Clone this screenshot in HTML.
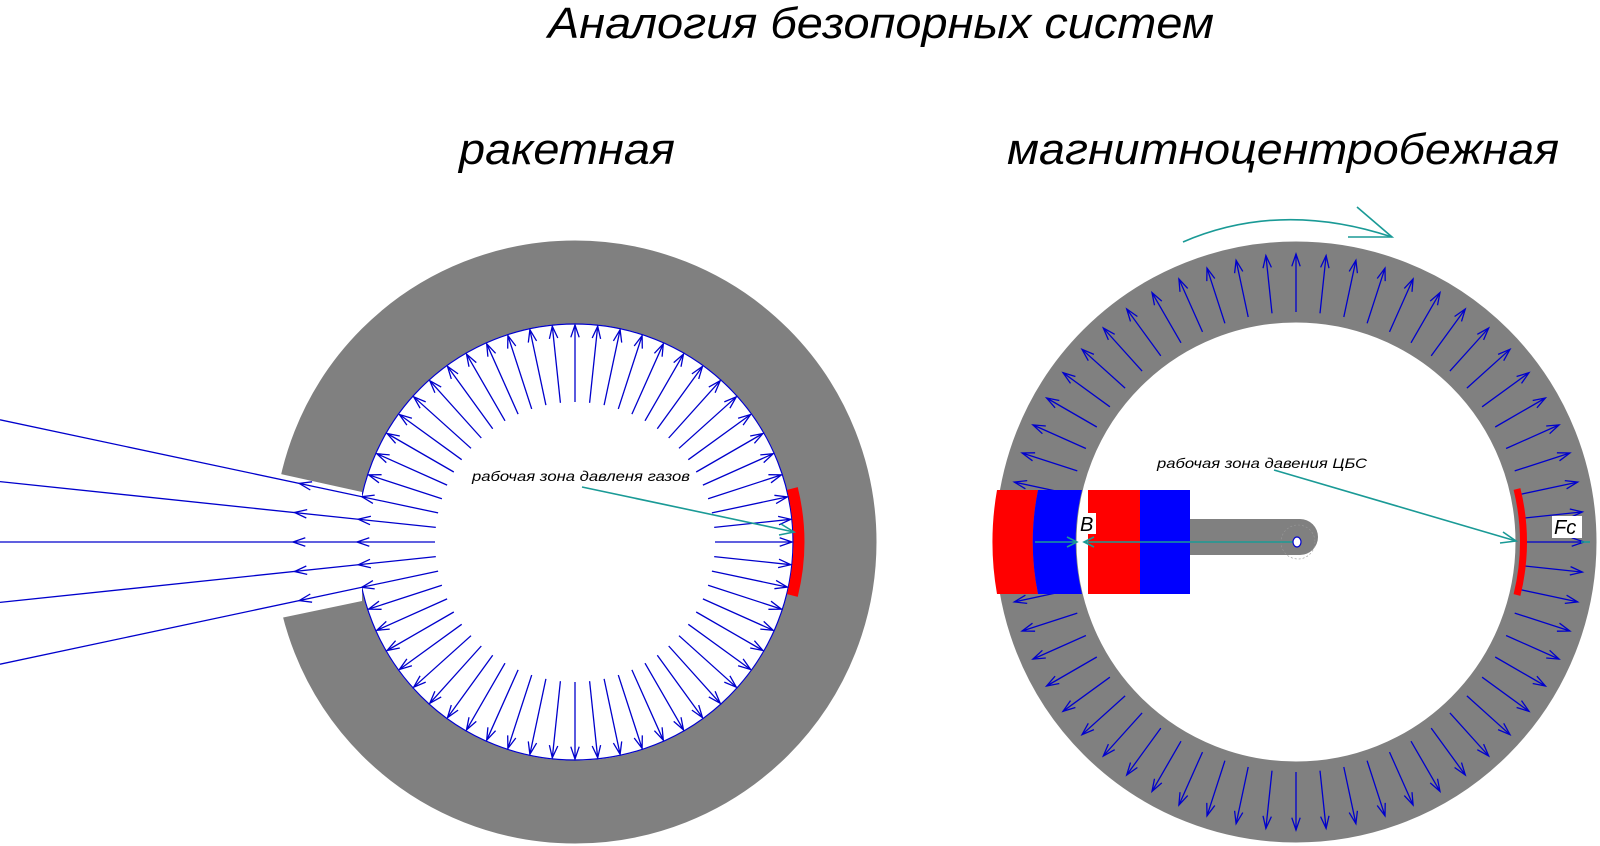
<!DOCTYPE html>
<html><head><meta charset="utf-8"><style>
html,body{margin:0;padding:0;background:#fff;}
svg{display:block;}
text{font-family:"Liberation Sans",sans-serif;font-style:italic;}
</style></head><body>
<svg id="s" width="1600" height="846" viewBox="0 0 1600 846" xmlns="http://www.w3.org/2000/svg">
<rect width="1600" height="846" fill="#fff"/>
<text x="548" y="38" font-size="44" textLength="666" lengthAdjust="spacingAndGlyphs">Аналогия безопорных систем</text>
<text x="459" y="164" font-size="44" textLength="216" lengthAdjust="spacingAndGlyphs">ракетная</text>
<text x="1007" y="164" font-size="44" textLength="552" lengthAdjust="spacingAndGlyphs">магнитноцентробежная</text>

<!-- left ring -->
<circle cx="575" cy="542" r="260" fill="none" stroke="#808080" stroke-width="83"/>
<circle cx="575" cy="542" r="218" fill="#fff" stroke="#0000cc" stroke-width="1.2"/>
<polygon points="362,492 276,473 250,467 250,625 276,619 362,601" fill="#fff"/>
<path d="M 792.4 488.5 A 224 224 0 0 1 792.4 595.5" fill="none" stroke="#ff0000" stroke-width="11"/>
<g id="la" stroke="#0000cc" stroke-width="1.3" fill="none"></g>

<!-- right ring -->
<circle cx="1296" cy="542" r="260" fill="none" stroke="#808080" stroke-width="81"/>
<g id="ra" stroke="#0000cc" stroke-width="1.3" fill="none"></g>
<path d="M 1517 489 A 222 222 0 0 1 1517 595" fill="none" stroke="#ff0000" stroke-width="7"/>
<!-- outer magnet -->
<path d="M 997 490 L 1038 490 A 262 262 0 0 0 1038 594 L 997 594 A 301 301 0 0 1 997 490 Z" fill="#ff0000"/>
<path d="M 1038 490 L 1082 490 A 219 219 0 0 0 1082 594 L 1038 594 A 262 262 0 0 1 1038 490 Z" fill="#0000ff"/>
<!-- arm -->
<path d="M 1188 519 L 1300 519 A 18 18 0 0 1 1300 555 L 1188 555 Z" fill="#808080"/>
<circle cx="1298" cy="542" r="17" fill="none" stroke="#999" stroke-width="0.6" stroke-dasharray="2,2"/>
<rect x="1088" y="490" width="52" height="104" fill="#ff0000"/>
<rect x="1140" y="490" width="50" height="104" fill="#0000ff"/>
<!-- teal lines -->
<g stroke="#1a9a96" stroke-width="1.6" fill="none">
<line x1="1035" y1="542" x2="1077" y2="542"/>
<path d="M1067 537 L1077 542 L1067 547"/>
<line x1="1084" y1="542" x2="1293" y2="542"/>
<path d="M1094 537 L1084 542 L1094 547"/>
<line x1="1274" y1="470" x2="1516" y2="541"/>
<path d="M1503 532 L1516 541 L1500 543"/>
<line x1="582" y1="487" x2="794" y2="532"/>
<path d="M781 524 L794 532 L779 535"/>
<path d="M1183 242 Q1280 200 1392 237"/>
<path d="M1357 207 L1392 237 L1348 237"/>
<line x1="1581" y1="542" x2="1590" y2="542"/>
</g>
<ellipse cx="1297" cy="542" rx="4" ry="5" fill="#fff" stroke="#0000cc" stroke-width="1.2"/>
<rect x="1079" y="513" width="17" height="21" fill="#fff"/>
<text x="1080" y="531" font-size="20">B</text>
<rect x="1552" y="516" width="30" height="22" fill="#fff"/>
<text x="1554" y="534" font-size="20">Fc</text>
<text x="472" y="481" font-size="14" textLength="218" lengthAdjust="spacingAndGlyphs">рабочая зона давленя газов</text>
<text x="1157" y="468" font-size="14" textLength="210" lengthAdjust="spacingAndGlyphs">рабочая зона давения ЦБС</text>
</svg>
<script>
(function(){
var NS="http://www.w3.org/2000/svg";
function head(g,x,y,a){var L=13,h=0.33;
 var p=document.createElementNS(NS,"path");
 var x1=x-L*Math.cos(a-h),y1=y-L*Math.sin(a-h),x2=x-L*Math.cos(a+h),y2=y-L*Math.sin(a+h);
 p.setAttribute("d","M"+x1.toFixed(1)+" "+y1.toFixed(1)+" L"+x.toFixed(1)+" "+y.toFixed(1)+" L"+x2.toFixed(1)+" "+y2.toFixed(1));g.appendChild(p);}
function line(g,a,b,c,d){var l=document.createElementNS(NS,"line");l.setAttribute("x1",a.toFixed(1));l.setAttribute("y1",b.toFixed(1));l.setAttribute("x2",c.toFixed(1));l.setAttribute("y2",d.toFixed(1));g.appendChild(l);}
var la=document.getElementById("la"),cx=575,cy=542;
for(var i=0;i<60;i++){var a=i*6*Math.PI/180,c=Math.cos(a),s=Math.sin(a);
 if(i>=28&&i<=32){var t=(cx)/(-c);line(la,cx+140*c,cy+140*s,cx+t*c,cy+t*s);
  head(la,cx+218*c,cy+218*s,a);head(la,cx+282*c,cy+282*s,a);}
 else{line(la,cx+140*c,cy+140*s,cx+217*c,cy+217*s);head(la,cx+217*c,cy+217*s,a);}}
var ra=document.getElementById("ra");cx=1296;
for(var i=0;i<60;i++){if(i>=29&&i<=31)continue;var a=i*6*Math.PI/180,c=Math.cos(a),s=Math.sin(a);
 line(ra,cx+230*c,cy+230*s,cx+288*c,cy+288*s);head(ra,cx+288*c,cy+288*s,a);}
})();
</script>
</body></html>
